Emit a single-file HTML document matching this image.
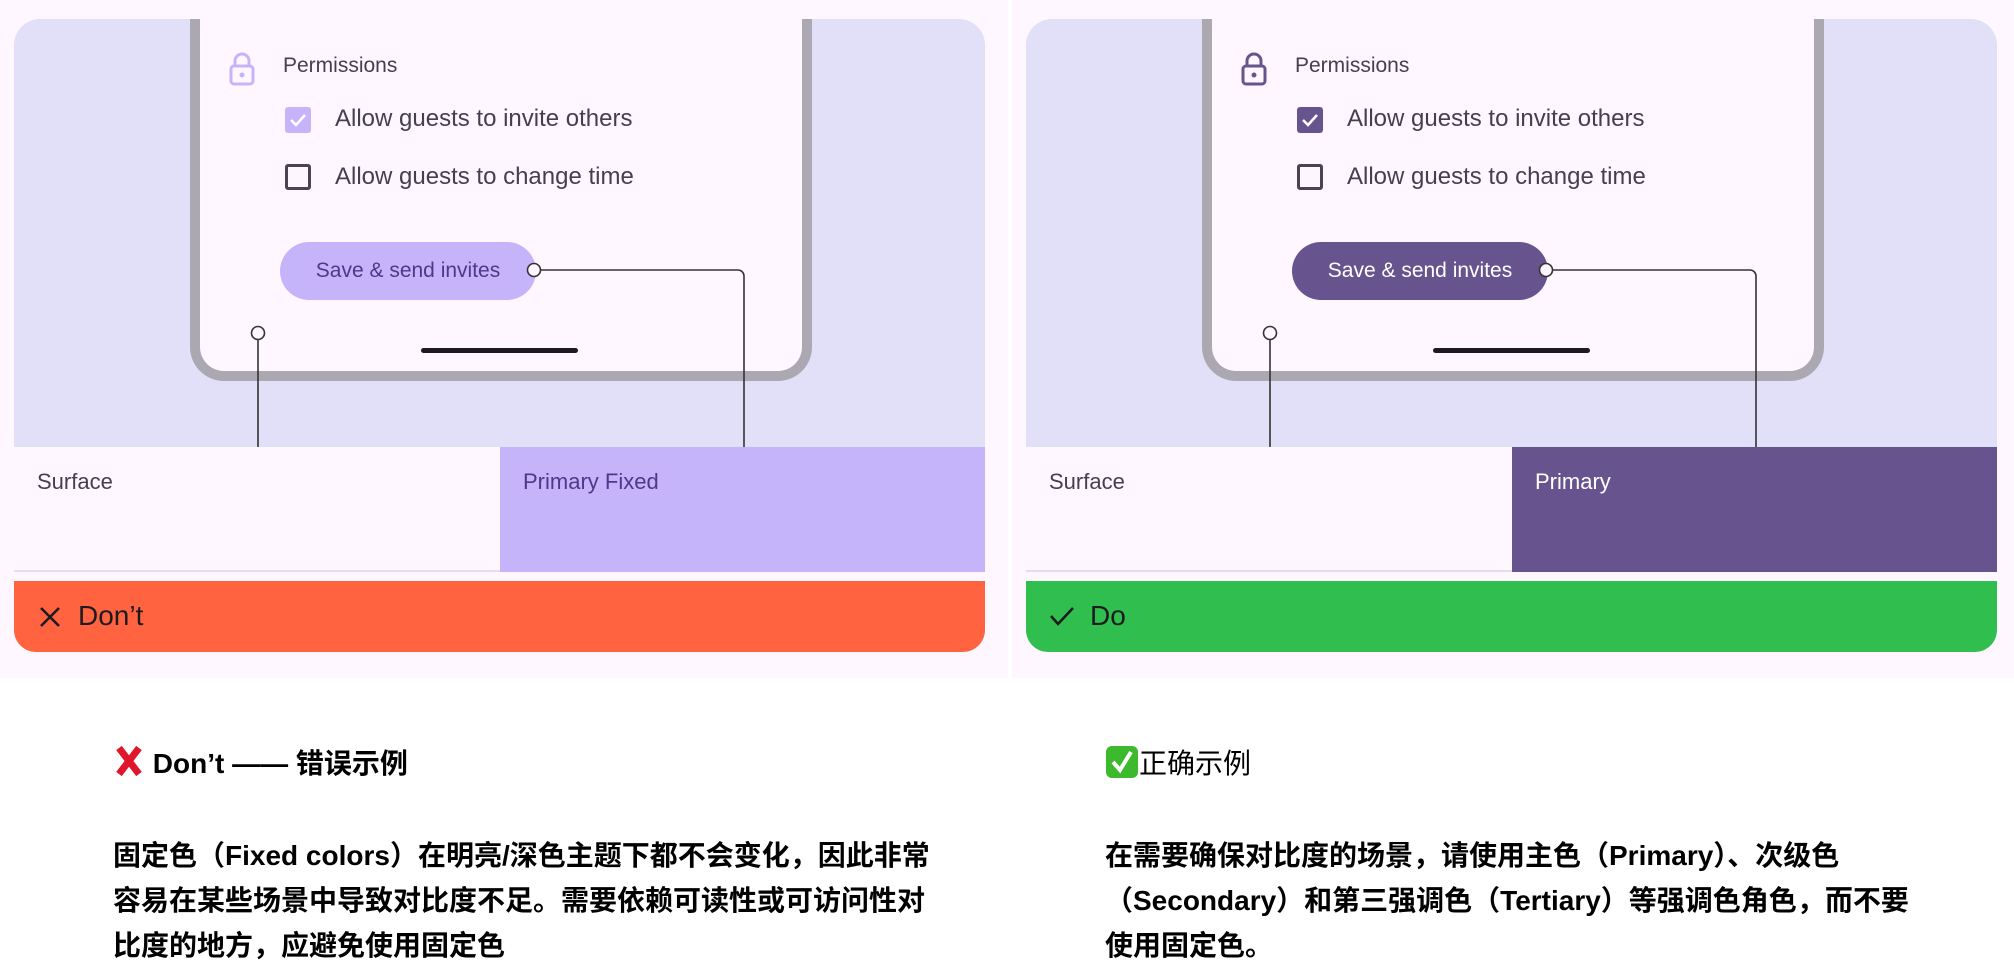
<!DOCTYPE html>
<html><head><meta charset="utf-8"><style>
*{margin:0;padding:0;box-sizing:border-box}
body{width:2014px;height:966px;background:#fff;position:relative;overflow:hidden;font-family:"Liberation Sans","Noto Sans CJK SC",sans-serif}
.a{position:absolute}
.bg{background:#FEF7FF;width:1008px;height:678px;top:0}
.top{left:14px;top:19px;width:971px;height:428px;background:#E2DFF8;border-radius:26px 26px 0 0;overflow:hidden}
.phone{left:176px;top:-20px;width:622px;height:382px;background:#FEF7FF;border:10px solid #ABA8B2;border-top:none;border-radius:0 0 34px 34px}
.t{color:#45414C;white-space:nowrap}
.sw{top:447px;height:125px;width:486px;font-size:22px;padding:22px 23px}
.bar{left:14px;top:581px;width:971px;height:71px;border-radius:0 0 22px 22px;font-size:28px;color:#1d1b20}
.p{font-size:28px;font-weight:bold;line-height:45px;color:#000;white-space:nowrap}
</style></head><body>

<!-- LEFT -->
<div class="a bg" style="left:0"></div>
<div class="a top">
  <div class="a phone">
    <svg class="a" style="left:27px;top:53px" width="30" height="34" viewBox="0 0 30 34"><path d="M8 15V9a7 7 0 0 1 14 0v6" fill="none" stroke="#C6B4FA" stroke-width="3"/><rect x="4" y="14" width="22" height="18" rx="3" fill="none" stroke="#C6B4FA" stroke-width="3"/><circle cx="15" cy="23" r="2.5" fill="#C6B4FA"/></svg>
    <div class="a t" style="left:83px;top:55px;font-size:21px">Permissions</div>
    <div class="a" style="left:85px;top:108px;width:26px;height:26px;background:#C6B4FA;border-radius:3px"><svg width="26" height="26"><path d="M6 13l5 5 9-10" fill="none" stroke="#fff" stroke-width="2.5"/></svg></div>
    <div class="a t" style="left:135px;top:106px;font-size:24px">Allow guests to invite others</div>
    <div class="a" style="left:85px;top:165px;width:26px;height:26px;border:3px solid #49454F;border-radius:3px"></div>
    <div class="a t" style="left:135px;top:164px;font-size:24px">Allow guests to change time</div>
    <div class="a" style="left:80px;top:243px;width:256px;height:58px;background:#C6B4FA;border-radius:29px;color:#4F378B;font-size:21px;text-align:center;line-height:58px">Save &amp; send invites</div>
    <div class="a" style="left:221px;top:349px;width:157px;height:5px;background:#1d1b20;border-radius:3px"></div>
  </div>
</div>
<svg class="a" style="left:0;top:0" width="1008" height="450"><path d="M541 270H738a6 6 0 0 1 6 6V447M258 340V447" fill="none" stroke="#333" stroke-width="1.6"/><circle cx="534" cy="270" r="6.5" fill="#FEF7FF" stroke="#333" stroke-width="1.6"/><circle cx="258" cy="333" r="6.5" fill="#FEF7FF" stroke="#333" stroke-width="1.6"/></svg>
<div class="a sw t" style="left:14px;background:#FEF7FF;border-bottom:2px solid #e3dfe8">Surface</div>
<div class="a sw" style="left:500px;background:#C6B4FA;color:#4F378B;width:485px">Primary Fixed</div>
<div class="a bar" style="background:#FF6340"><svg class="a" style="left:25px;top:25px" width="22" height="22"><path d="M2 2L20 20M20 2L2 20" stroke="#1d1b20" stroke-width="2.6"/></svg><span class="a" style="left:64px;top:19px">Don’t</span></div>

<!-- RIGHT -->
<div class="a bg" style="left:1012px;width:1002px"></div>
<div class="a top" style="left:1026px">
  <div class="a phone">
    <svg class="a" style="left:27px;top:53px" width="30" height="34" viewBox="0 0 30 34"><path d="M8 15V9a7 7 0 0 1 14 0v6" fill="none" stroke="#67548F" stroke-width="3"/><rect x="4" y="14" width="22" height="18" rx="3" fill="none" stroke="#67548F" stroke-width="3"/><circle cx="15" cy="23" r="2.5" fill="#67548F"/></svg>
    <div class="a t" style="left:83px;top:55px;font-size:21px">Permissions</div>
    <div class="a" style="left:85px;top:108px;width:26px;height:26px;background:#67548F;border-radius:3px"><svg width="26" height="26"><path d="M6 13l5 5 9-10" fill="none" stroke="#fff" stroke-width="2.5"/></svg></div>
    <div class="a t" style="left:135px;top:106px;font-size:24px">Allow guests to invite others</div>
    <div class="a" style="left:85px;top:165px;width:26px;height:26px;border:3px solid #49454F;border-radius:3px"></div>
    <div class="a t" style="left:135px;top:164px;font-size:24px">Allow guests to change time</div>
    <div class="a" style="left:80px;top:243px;width:256px;height:58px;background:#67548F;border-radius:29px;color:#fff;font-size:21px;text-align:center;line-height:58px">Save &amp; send invites</div>
    <div class="a" style="left:221px;top:349px;width:157px;height:5px;background:#1d1b20;border-radius:3px"></div>
  </div>
</div>
<svg class="a" style="left:1012px;top:0" width="1002" height="450"><path d="M541 270H738a6 6 0 0 1 6 6V447M258 340V447" fill="none" stroke="#333" stroke-width="1.6"/><circle cx="534" cy="270" r="6.5" fill="#FEF7FF" stroke="#333" stroke-width="1.6"/><circle cx="258" cy="333" r="6.5" fill="#FEF7FF" stroke="#333" stroke-width="1.6"/></svg>
<div class="a sw t" style="left:1026px;background:#FEF7FF;border-bottom:2px solid #e3dfe8">Surface</div>
<div class="a sw" style="left:1512px;background:#67548F;color:#fff;width:485px">Primary</div>
<div class="a bar" style="left:1026px;background:#30BE4F"><svg class="a" style="left:23px;top:24px" width="26" height="22"><path d="M2 11l7 8L24 3" fill="none" stroke="#1d1b20" stroke-width="2.6"/></svg><span class="a" style="left:64px;top:19px">Do</span></div>

<!-- TEXT -->
<div class="a p" style="left:113px;top:741px;font-weight:600"><svg style="vertical-align:-5px" width="32" height="34"><path d="M6 4L26 30M26 4L6 30" stroke="#E0162B" stroke-width="7"/></svg> Don’t —— 错误示例</div>
<div class="a p" style="left:113px;top:833px">固定色（Fixed colors）在明亮/深色主题下都不会变化，因此非常<br>容易在某些场景中导致对比度不足。需要依赖可读性或可访问性对<br>比度的地方，应避免使用固定色</div>
<div class="a p" style="left:1105px;top:741px;font-weight:normal"><svg style="vertical-align:-6px" width="34" height="34"><rect x="1" y="1" width="32" height="32" rx="6" fill="#3CB92C"/><path d="M8 17l7 8L26 7" fill="none" stroke="#fff" stroke-width="4"/></svg>正确示例</div>
<div class="a p" style="left:1105px;top:833px">在需要确保对比度的场景，请使用主色（Primary）、次级色<br>（Secondary）和第三强调色（Tertiary）等强调色角色，而不要<br>使用固定色。</div>
</body></html>
